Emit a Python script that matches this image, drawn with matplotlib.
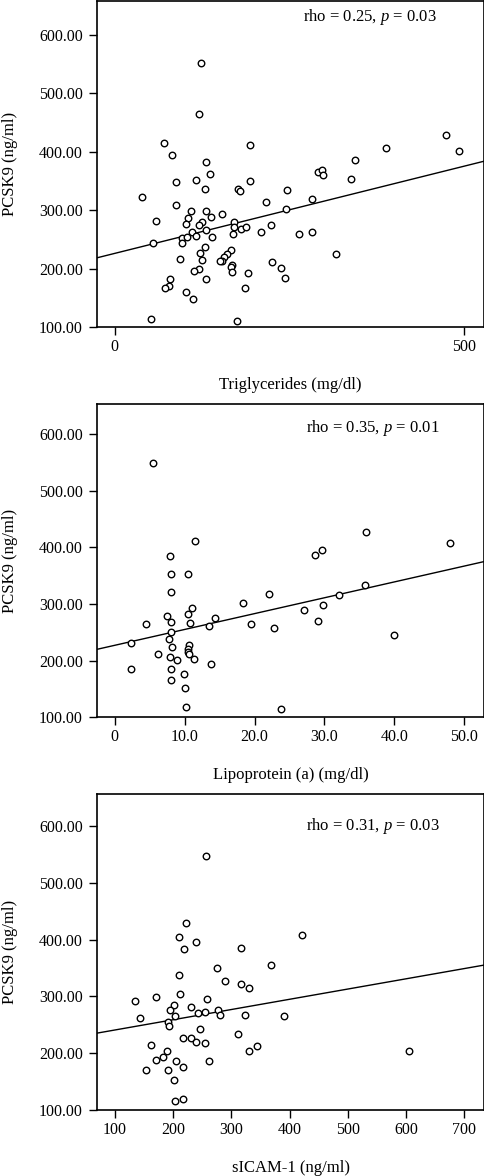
import matplotlib
matplotlib.use("Agg")
import matplotlib.pyplot as plt
import numpy as np

plt.rcParams['font.family'] = ['Liberation Serif', 'DejaVu Serif']
plt.rcParams['mathtext.fontset'] = 'custom'
plt.rcParams['mathtext.rm'] = 'Liberation Serif'
plt.rcParams['mathtext.it'] = 'Liberation Serif:italic'

# ---------------- data ----------------
tg_x = [123.1, 120.2, 70.6, 82.5, 194.2, 130.7, 136.5, 87.3, 115.9, 128.8, 194.2, 176.0, 179.9,
        246.2, 290.6, 297.2, 298.7, 337.8, 344.0, 388.4, 474.2, 492.8, 39.1, 216.1, 282.4,
        87.3, 109.7, 130.7, 152.7, 137.4, 105.4, 244.8, 58.2, 124.5, 120.2, 102.1, 170.3, 171.2,
        180.3, 187.5, 223.8, 209.5, 263.8, 282.9, 130.7, 169.4, 110.7, 95.9, 102.6, 116.9,
        139.3, 95.9, 54.4, 129.3, 121.2, 93.5, 125.0, 166.6, 160.8, 156.5, 154.1, 150.3, 168.4,
        165.6, 167.9, 191.3, 316.8, 225.7, 238.6, 243.8, 120.2, 113.1, 130.7, 78.7, 76.9, 72.1,
        186.1, 101.6, 112.2, 52.0, 174.6]
tg_y = [550.7, 464.0, 415.3, 395.0, 411.9, 383.0, 362.0, 347.9, 351.3, 336.0, 350.0, 335.4, 332.0,
        334.3, 365.4, 368.2, 360.3, 353.5, 386.4, 405.7, 428.9, 401.0, 322.5, 314.2, 318.8,
        309.7, 299.4, 298.3, 293.8, 289.2, 286.4, 301.7, 282.4, 280.1, 274.4, 276.1, 279.0, 270.5,
        268.2, 270.5, 275.0, 263.6, 259.1, 263.6, 265.9, 259.7, 262.5, 251.7, 253.4, 256.3,
        254.5, 243.2, 243.2, 236.9, 226.1, 217.0, 214.8, 232.4, 225.0, 219.3, 213.1, 213.1, 206.3,
        203.4, 194.9, 192.6, 225.0, 211.9, 200.6, 184.7, 199.4, 196.6, 182.4, 182.4, 170.5, 167.0,
        166.5, 159.7, 147.7, 114.8, 111.4]

lpa_x = [5.53, 36.0, 11.45, 47.95, 7.97, 28.7, 29.6, 8.06, 10.54, 35.8, 8.06, 22.1, 32.1, 18.4,
         11.07, 10.45, 7.54, 29.8, 27.0, 14.36, 8.06, 10.78, 4.44, 13.55, 29.06, 19.56, 22.8,
         8.06, 39.93, 2.34, 7.78, 10.64, 8.16, 10.54, 10.5, 10.6, 6.2, 7.97, 8.97, 11.4, 13.74,
         8.11, 2.34, 9.88, 8.11, 10.1, 10.2, 23.85]
lpa_y = [550.0, 427.0, 410.6, 407.6, 384.1, 386.5, 395.9, 352.4, 352.4, 333.5, 321.8, 318.2, 315.9,
         301.8, 292.9, 281.8, 279.4, 298.2, 289.4, 274.7, 268.8, 267.1, 265.3, 261.8, 270.6, 265.3,
         257.1, 250.0, 245.3, 231.8, 237.6, 227.1, 224.7, 220.6, 215.9, 211.2, 211.2, 207.1, 201.8,
         202.4, 194.7, 184.7, 185.9, 175.9, 165.9, 151.8, 117.6, 114.1]

icam_x = [256.3, 221.9, 210.5, 239.1, 219.7, 317.0, 421.2, 276.3, 367.9, 209.9, 288.9, 317.0,
          331.3, 212.8, 135.5, 170.4, 202.5, 259.2, 231.1, 195.0, 243.1, 255.2, 276.9, 203.0,
          281.5, 324.4, 390.8, 144.1, 192.2, 192.8, 246.6, 311.3, 216.8, 230.5, 240.3, 255.7,
          343.9, 161.8, 330.7, 189.3, 605.5, 183.6, 170.4, 205.9, 262.6, 216.8, 153.2, 192.2,
          201.9, 216.8, 203.0]
icam_y = [546.5, 429.4, 405.3, 395.3, 382.9, 385.3, 408.2, 350.6, 354.7, 337.1, 326.5, 321.8,
          314.1, 303.5, 291.8, 298.8, 285.3, 295.9, 280.6, 275.3, 270.6, 272.4, 275.3, 264.7,
          267.1, 267.6, 265.9, 261.2, 255.3, 247.6, 241.8, 234.7, 227.1, 227.1, 219.4, 218.8,
          212.9, 214.1, 204.7, 203.5, 204.1, 192.9, 188.8, 186.5, 185.9, 175.9, 170.6, 170.0,
          152.9, 119.4, 115.3]

# fitted lines: (intercept, slope)
tg_fit = (226.3, 0.2977)
lpa_fit = (227.2, 2.80)
icam_fit = (222.8, 0.1804)

xlabels = ["Triglycerides (mg/dl)", "Lipoprotein (a) (mg/dl)", "sICAM-1 (ng/ml)"]
annots = [r"rho = 0.25, $\it{p}$ = 0.03", r"rho = 0.35, $\it{p}$ = 0.01", r"rho = 0.31, $\it{p}$ = 0.03"]
ylabel = "PCSK9 (ng/ml)"
yticks = [100, 200, 300, 400, 500, 600]
ytick_labels = ["100.00", "200.00", "300.00", "400.00", "500.00", "600.00"]
xticks_list = [[0, 500], [0, 10, 20, 30, 40, 50], [100, 200, 300, 400, 500, 600, 700]]
xtick_labels_list = [["0", "500"], ["0", "10.0", "20.0", "30.0", "40.0", "50.0"],
                     ["100", "200", "300", "400", "500", "600", "700"]]

# ---------------- layout ----------------
W, H = 485, 1176
fig = plt.figure(figsize=(W / 100, H / 100), dpi=100)

def rect(left, top, right, bottom):
    return [left / W, 1 - bottom / H, (right - left) / W, (bottom - top) / H]

rects = [rect(96.7, 0.6, 484.3, 327.3), rect(96.7, 404.3, 484.3, 717.3), rect(96.7, 794, 484.3, 1110)]
xlims = [(-26, 529), (-2.58, 52.86), (69.1, 734.3)]
ylims = [(100, 658), (100, 653), (100, 656.5)]
annot_pos = [(0.532, 0.95), (0.54, 0.923), (0.54, 0.90)]

datasets = [(tg_x, tg_y, tg_fit), (lpa_x, lpa_y, lpa_fit), (icam_x, icam_y, icam_fit)]

for i, (xs, ys, fit) in enumerate(datasets):
    ax = fig.add_axes(rects[i])
    ax.scatter(xs, ys, s=22, facecolors='white', edgecolors='black', linewidths=1.0, zorder=3)
    xl = np.array(xlims[i])
    ax.plot(xl, fit[0] + fit[1] * xl, color='black', lw=1.0, zorder=2)
    ax.set_xlim(*xlims[i])
    ax.set_ylim(*ylims[i])
    ax.set_yticks(yticks)
    ax.set_yticklabels(ytick_labels)
    ax.set_xticks(xticks_list[i])
    ax.set_xticklabels(xtick_labels_list[i])
    ax.tick_params(direction='out', length=5.5, width=1.0, labelsize=11.5, colors='black')
    ax.tick_params(axis='y', pad=4.5)
    ax.tick_params(axis='x', pad=3)
    for sp in ax.spines.values():
        sp.set_linewidth(1.2)
    ax.set_xlabel(xlabels[i], fontsize=12, labelpad=16)
    ax.set_ylabel(ylabel, fontsize=12, labelpad=15)
    ax.text(annot_pos[i][0], annot_pos[i][1], annots[i], transform=ax.transAxes,
            fontsize=12, ha='left', va='center')

fig.savefig("out.png", dpi=100)
